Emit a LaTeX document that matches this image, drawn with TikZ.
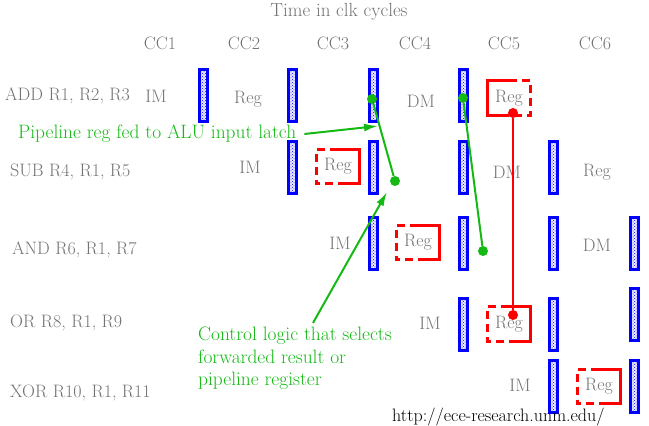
\documentclass[tikz,border=0pt]{standalone}
\usepackage{fontspec}
\setmainfont{Latin Modern Roman}
\usepackage{tikz}
\usetikzlibrary{patterns,arrows.meta}
\definecolor{fwdgreen}{RGB}{20,185,20}

\begin{document}
\begin{tikzpicture}[x=1pt,y=-1pt,
    lbl/.style={text=black!55,font=\fontsize{18}{21}\selectfont,inner sep=0pt},
    note/.style={text=fwdgreen,font=\fontsize{19.4}{22.5}\selectfont,inner sep=0pt,align=left},
    latch/.style={draw=blue,line width=3pt,preaction={fill=blue!8},pattern=crosshatch dots,pattern color=blue,
      minimum width=8pt,minimum height=52pt,inner sep=0pt},
    regbox/.style={lbl,minimum width=43pt,minimum height=34pt},
    regline/.style={red,line width=3pt,line join=miter},
    fwd/.style={fwdgreen,line width=2pt},
    dot/.style={circle,inner sep=0pt,minimum size=10pt}]
  \useasboundingbox (0,0) rectangle (649,426);
  \node[lbl,font=\fontsize{19}{22}\selectfont] (title) at (339,12) {Time in clk cycles};
  \foreach \x/\n in {160/1,244/2,333/3,415/4,504/5,595/6}
    \node[lbl] (cc\n) at (\x,43) {CC\n};
  \node[lbl,anchor=west] (add) at (5,96) {ADD R1, R2, R3};
  \node[lbl,anchor=west] (sub) at (10,172) {SUB R4, R1, R5};
  \node[lbl,anchor=west] (and) at (12,250) {AND R6, R1, R7};
  \node[lbl,anchor=west] (or) at (10,323) {OR R8, R1, R9};
  \node[lbl,anchor=west] (xor) at (10,393) {XOR R10, R1, R11};
  \foreach \x/\y/\n in {203/95.5/11,292.5/95.5/12,373.5/95.5/13,463.5/95.5/14,
      292.5/167.5/21,373.5/167.5/22,463.5/167.5/23,553.5/167.5/24,
      373.5/243/31,463.5/243/32,553.5/243/33,634.5/243/34,
      463.5/324/41,553.5/324/42,634.5/314.5/43,
      553.5/386/51,634.5/386/52}
    \node[latch] (b\n) at (\x,\y) {};
  \foreach \x/\y/\n in {156/96/1,250/167/2,340/243/3,430/323/4,520/385/5}
    \node[lbl] (im\n) at (\x,\y) {IM};
  \node[lbl] (rg1) at (248,99) {Reg};
  \node[lbl] (rg2) at (597,172) {Reg};
  \node[lbl] (dm1) at (421,101) {DM};
  \node[lbl] (dm2) at (507,172) {DM};
  \node[lbl] (dm3) at (597,245) {DM};
  \node[regbox] (q1) at (509,98) {Reg};
  \node[regbox] (q2) at (338,166.5) {Reg};
  \node[regbox] (q3) at (418,242.5) {Reg};
  \node[regbox] (q4) at (509,324) {Reg};
  \node[regbox] (q5) at (599,386.5) {Reg};
  \draw[regline] (q1.north) -| (q1.south west) -- (q1.south);
  \draw[regline,dash pattern=on 8pt off 5pt] (q1.north) -| (q1.south east) -- (q1.south);
  \foreach \n in {q2,q3,q4,q5} {
    \draw[regline,dash pattern=on 8pt off 5pt] (\n.north) -| (\n.south west) -- (\n.south);
    \draw[regline] (\n.north) -| (\n.south east) -- (\n.south);
  }
  \node[note,anchor=west] (pipe) at (18,134) {Pipeline reg fed to ALU input latch};
  \node[note,anchor=north west] (ctrl) at (198,327)
    {Control logic that selects\\forwarded result or\\pipeline register};
  \node[lbl,text=black,anchor=west] (url) at (392,417) {http://ece-research.unm.edu/};
  \node[dot,fill=fwdgreen] (g1) at (372,99) {};
  \node[dot,fill=fwdgreen] (g2) at (395,181) {};
  \node[dot,fill=fwdgreen] (g3) at (463,98) {};
  \node[dot,fill=fwdgreen] (g4) at (483,251) {};
  \node[dot,fill=red] (r1) at (513,113) {};
  \node[dot,fill=red] (r2) at (513,315) {};
  \coordinate (a1) at (378,126);
  \coordinate (a2) at (387,192);
  \draw[fwd] (g1) -- (g2);
  \draw[fwd] (g3) -- (g4);
  \draw[red,line width=2.5pt] (r1) -- (r2);
  \draw[fwd,-{Latex[length=14pt,width=8pt]}] ([xshift=8pt]pipe.east) -- (a1);
  \draw[fwd,-{Latex[length=14pt,width=8pt]}] ([xshift=18pt,yshift=4pt]ctrl.north) -- (a2);
\end{tikzpicture}
\end{document}
